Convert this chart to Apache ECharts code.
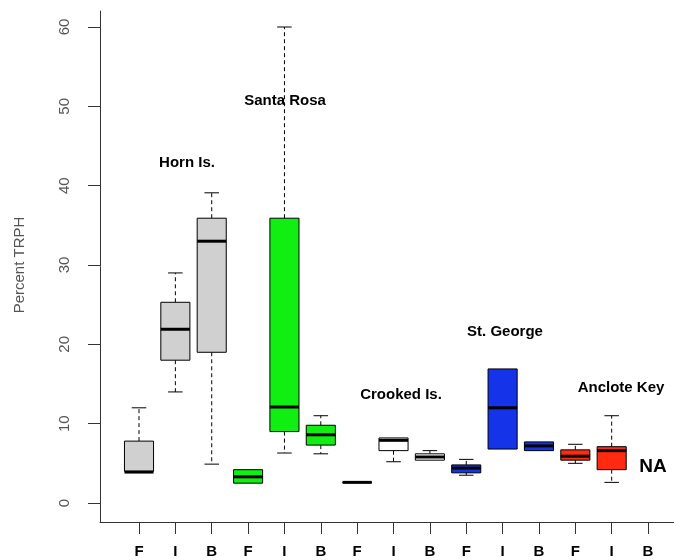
<!DOCTYPE html>
<html>
<head>
<meta charset="utf-8">
<script src="https://cdn.jsdelivr.net/npm/echarts@6/dist/echarts.min.js"></script>
<style>
html,body{margin:0;padding:0;background:#fff;}
#chart{width:674px;height:560px;}
</style>
</head>
<body>
<div id="chart"></div>
<script>
// ---- data ----
const categories = ['F','I','B','F','I','B','F','I','B','F','I','B','F','I','B'];
const groups = ['Horn Is.','Santa Rosa','Crooked Is.','St. George','Anclote Key'];
const lowWhisker  = [4.0, 14.0, 4.9, 2.5, 6.3, 6.2, 2.6, 5.2, 5.4, 3.5, 6.8, 6.6, 5.0, 2.6, null];
const lowerQuart  = [4.0, 18.0, 19.0, 2.5, 9.0, 7.3, 2.6, 6.6, 5.4, 3.8, 6.8, 6.6, 5.4, 4.2, null];
const medians     = [3.9, 21.9, 33.0, 3.3, 12.1, 8.6, 2.6, 7.9, 5.8, 4.4, 12.0, 7.2, 5.9, 6.6, null];
const upperQuart  = [7.8, 25.3, 35.9, 4.2, 35.9, 9.8, 2.6, 8.2, 6.2, 4.8, 16.9, 7.7, 6.7, 7.1, null];
const highWhisker = [12.0, 29.0, 39.1, 4.2, 60.0, 11.0, 2.6, 8.2, 6.6, 5.5, 16.9, 7.7, 7.4, 11.0, null];
const yTicks = [0, 10, 20, 30, 40, 50, 60];

// ---- styles ----
const groupColors = ['#d0d0d0', '#11ee11', '#ffffff', '#1533e8', '#ff2a10'];

const boxData = [];
categories.forEach((c, i) => {
  if (medians[i] == null) return;
  boxData.push([i, lowWhisker[i], lowerQuart[i], medians[i], upperQuart[i], highWhisker[i]]);
});

function renderBox(params, api) {
  const i = api.value(0);
  const lo = api.value(1), q1 = api.value(2), md = api.value(3), q3 = api.value(4), hi = api.value(5);
  const x = api.coord([i, 0])[0];
  const w = api.size([1, 0])[0] * 0.8;
  const cw = w / 2;
  const yLo = api.coord([i, lo])[1];
  const yQ1 = api.coord([i, q1])[1];
  const yMd = api.coord([i, md])[1];
  const yQ3 = api.coord([i, q3])[1];
  const yHi = api.coord([i, hi])[1];
  const fill = groupColors[Math.floor(i / 3)];
  const children = [];
  if (yHi < yQ3) {
    children.push({type: 'line', shape: {x1: x, y1: yQ3, x2: x, y2: yHi},
      style: {stroke: '#000', lineWidth: 1, lineDash: [4, 3]}});
    children.push({type: 'line', shape: {x1: x - cw / 2, y1: yHi, x2: x + cw / 2, y2: yHi},
      style: {stroke: '#000', lineWidth: 1}});
  }
  if (yLo > yQ1) {
    children.push({type: 'line', shape: {x1: x, y1: yQ1, x2: x, y2: yLo},
      style: {stroke: '#000', lineWidth: 1, lineDash: [4, 3]}});
    children.push({type: 'line', shape: {x1: x - cw / 2, y1: yLo, x2: x + cw / 2, y2: yLo},
      style: {stroke: '#000', lineWidth: 1}});
  }
  children.push({type: 'rect', shape: {x: x - w / 2, y: yQ3, width: w, height: Math.max(yQ1 - yQ3, 0)},
    style: {fill: fill, stroke: '#000', lineWidth: 1}});
  children.push({type: 'line', shape: {x1: x - w / 2, y1: yMd, x2: x + w / 2, y2: yMd},
    style: {stroke: '#000', lineWidth: 3}});
  return {type: 'group', children: children};
}

const chart = echarts.init(document.getElementById('chart'), null, {renderer: 'canvas'});
const bandW = 36.36;
const firstX = 139;
const gridLeft = firstX - bandW / 2;

const option = {
  backgroundColor: '#fff',
  animation: false,
  grid: [
    {left: 100, top: 11, right: 0, bottom: 38},
    {left: gridLeft, top: 27, width: bandW * 15, bottom: 57}
  ],
  xAxis: [
    {gridIndex: 0, type: 'value', min: 0, max: 1,
      axisLine: {show: true, onZero: false, lineStyle: {color: '#333', width: 1}},
      axisTick: {show: false}, axisLabel: {show: false}, splitLine: {show: false}},
    {gridIndex: 1, type: 'category', data: categories, position: 'bottom', offset: 19,
      axisLine: {show: false, onZero: false},
      axisTick: {show: true, alignWithLabel: true, length: 12, lineStyle: {color: '#333'}},
      axisLabel: {color: '#000', fontWeight: 'bold', fontSize: 15, fontFamily: 'Liberation Sans, Arial, sans-serif', margin: 22},
      splitLine: {show: false}}
  ],
  yAxis: [
    {gridIndex: 0, type: 'value', min: 0, max: 1,
      axisLine: {show: true, onZero: false, lineStyle: {color: '#333', width: 1}},
      axisTick: {show: false}, axisLabel: {show: false}, splitLine: {show: false}},
    {gridIndex: 1, type: 'value', min: 0, max: 60, interval: 10, offset: gridLeft - 100,
      name: 'Percent TRPH', nameLocation: 'middle', nameGap: 73, nameRotate: 90,
      nameTextStyle: {color: '#555', fontSize: 15, fontFamily: 'Liberation Sans, Arial, sans-serif'},
      axisLine: {show: false, onZero: false},
      axisTick: {show: true, length: 12, lineStyle: {color: '#333'}},
      axisLabel: {rotate: 90, color: '#555', fontSize: 15, fontFamily: 'Liberation Sans, Arial, sans-serif', margin: 28,
        formatter: v => (yTicks.indexOf(v) >= 0 ? String(v) : '')},
      splitLine: {show: false}}
  ],
  series: [{
    type: 'custom',
    xAxisIndex: 1, yAxisIndex: 1,
    renderItem: renderBox,
    encode: {x: 0, y: [1, 2, 3, 4, 5]},
    data: boxData,
    clip: false,
    z: 5
  }],
  graphic: [
    {type: 'text', left: 187, top: 163, style: {text: groups[0]}},
    {type: 'text', left: 285, top: 101, style: {text: groups[1]}},
    {type: 'text', left: 401, top: 395, style: {text: groups[2]}},
    {type: 'text', left: 505, top: 332, style: {text: groups[3]}},
    {type: 'text', left: 621, top: 388, style: {text: groups[4]}},
    {type: 'text', left: 653, top: 467, style: {text: 'NA'}}
  ].map((g, k) => ({
    type: 'text', x: g.left, y: g.top, z: 10,
    style: {text: g.style.text, fill: '#000', font: (k === 5 ? 'bold 19px' : 'bold 15px') + ' "Liberation Sans", Arial, sans-serif',
      textAlign: 'center', textVerticalAlign: 'middle'}
  }))
};
chart.setOption(option);
</script>
</body>
</html>
